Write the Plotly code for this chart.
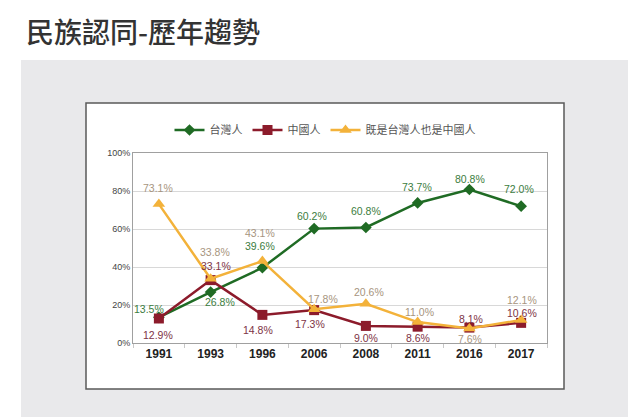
import plotly.graph_objects as go

# ---- data ----
years = ['1991', '1993', '1996', '2006', '2008', '2011', '2016', '2017']
taiwanese = [13.5, 26.8, 39.6, 60.2, 60.8, 73.7, 80.8, 72.0]
chinese = [12.9, 33.1, 14.8, 17.3, 9.0, 8.6, 8.1, 10.6]
both = [73.1, 33.8, 43.1, 17.8, 20.6, 11.0, 7.6, 12.1]
names = ['台灣人', '中國人', '既是台灣人也是中國人']
title_text = '民族認同-歷年趨勢'

# label offsets (px): (dx, dy) with dy positive = up
tw_off = [(-10, 8), (9, -10), (-2, 22), (-2, 13), (0, 16), (-1, 16), (1, 10), (-2, 17)]
cn_off = [(-1, -17), (5, 14), (-4, -15), (-4, -14), (0, -12), (0, -11), (2, 9), (1, 10)]
bo_off = [(-1, 16), (4, 27), (-2, 28), (9, 10), (3, 12), (2, 10), (1, -10), (1, 20)]

series = [
    (taiwanese, names[0], '#1f6b24', 'diamond', 9, '#3b7d3e', tw_off),
    (chinese, names[1], '#8c1b2b', 'square', 10, '#7d3344', cn_off),
    (both, names[2], '#f3b23a', 'triangle-up', 11, '#a79580', bo_off),
]

fig = go.Figure()
annotations = []
for vals, nm, col, sym, msz, tcol, offs in series:
    fig.add_trace(go.Scatter(
        x=years, y=vals, name=nm, mode='lines+markers',
        line=dict(color=col, width=2.5),
        marker=dict(symbol=sym, size=msz, color=col),
    ))
    # category index for annotation x (year strings would be read as numbers)
    for i, (v, (dx, dy)) in enumerate(zip(vals, offs)):
        annotations.append(dict(
            x=i, y=v, xref='x', yref='y', text=f'{v:.1f}%', showarrow=False,
            xshift=dx, yshift=dy,
            font=dict(family='Liberation Sans, Arial', size=10.5, color=tcol),
        ))

def fx(px):
    return (px - 133) / 414

def fy(py):
    return (343 - py) / 190

annotations.append(dict(
    x=fx(24), y=fy(31), xref='paper', yref='paper', text=title_text,
    showarrow=False, xanchor='left', yanchor='middle',
    font=dict(family='Noto Sans CJK TC', size=28, color='#333333', weight=500),
))

shapes = [
    dict(type='rect', xref='paper', yref='paper', layer='below',
         x0=fx(21), x1=fx(628), y0=fy(417), y1=fy(60),
         fillcolor='#e9e9eb', line=dict(width=0)),
    dict(type='rect', xref='paper', yref='paper', layer='below',
         x0=fx(86), x1=fx(564), y0=fy(389), y1=fy(103),
         fillcolor='white', line=dict(color='#5a5a5a', width=1.5)),
]

fig.update_layout(
    width=640, height=417,
    margin=dict(l=133, r=93, t=153, b=74),
    paper_bgcolor='white', plot_bgcolor='white',
    showlegend=True,
    legend=dict(orientation='h', x=fx(325), xanchor='center', y=fy(130), yanchor='middle',
                font=dict(family='Noto Sans CJK TC', size=11, color='#555555'),
                itemwidth=30, bgcolor='rgba(0,0,0,0)', traceorder='normal'),
    annotations=annotations,
    shapes=shapes,
    xaxis=dict(type='category', range=[-0.5, 7.5], showgrid=False,
               showline=True, linecolor='#a0a0a0', linewidth=1, mirror=True,
               ticks='outside', tickson='boundaries', ticklen=4, tickcolor='#c8c8c8',
               tickfont=dict(family='Liberation Sans, Arial', size=12, color='#222222', weight='bold'),
               fixedrange=True),
    yaxis=dict(range=[0, 100], dtick=20, ticksuffix='%',
               showgrid=True, gridcolor='#d8d8d8', gridwidth=1,
               showline=True, linecolor='#a0a0a0', linewidth=1, mirror=True,
               zeroline=False, ticks='', ticklen=0,
               tickfont=dict(family='Liberation Sans, Arial', size=9, color='#444444'),
               fixedrange=True),
)

fig.write_html("out.html", config={'displayModeBar': False},
               post_script="document.body.style.margin='0px';document.body.style.overflow='hidden';")
